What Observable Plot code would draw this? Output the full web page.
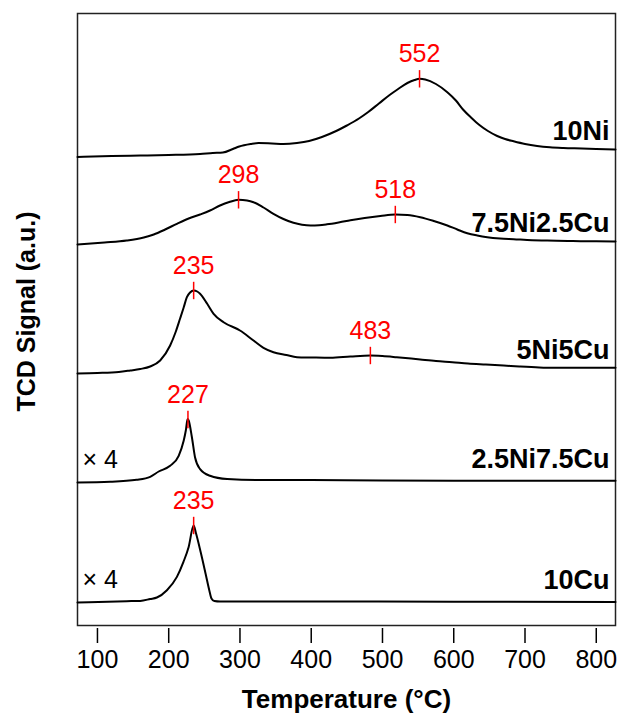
<!DOCTYPE html>
<html><head><meta charset="utf-8">
<script src="https://cdn.jsdelivr.net/npm/d3@7"></script>
<script src="https://cdn.jsdelivr.net/npm/@observablehq/plot@0.6"></script>
<style>body{margin:0;background:#fff}</style>
</head><body><div id="chart"></div>
<script>
// Samples, stacking offsets (arbitrary units) and multipliers
const samples = ["10Ni", "7.5Ni2.5Cu", "5Ni5Cu", "2.5Ni7.5Cu", "10Cu"];
const offsets = [468, 381, 252, 143, 23];
const multipliers = [1, 1, 1, 4, 4];

// TCD signal traces (temperature °C, signal a.u. above each baseline)
const temp10Ni = [72,120,160,200,244,262,276,290,299,315,326,345,361,380,397,415,435,450,467,480,495,510,521,535,545,552,560,575,591,603,613,625,636,648,661,672,684,700,717,735,754,780,800,827];
const sig10Ni  = [0.5,1.5,2,2.5,3.5,4.5,5,8.5,11,13.5,14.5,14,13.5,14.5,16.5,20.5,26.5,32,39,45.5,54,62.5,68,74.5,77.5,78.7,78,73.5,65.3,57,48,39.5,32.5,26.5,21.5,18.5,16.2,13.5,11.5,10.2,9.5,9,8.5,8];

const temp75Ni = [72,110,141,165,179,195,211.5,228,244,258,272,285,298,310,319,333,347,361,375,387,399,411,422,440,455,475,497,518,535,553,572,591,605,619,633,647,665,684,710,731,760,778,800,827];
const sig75Ni  = [0,2,4,7,10,15,20.7,26,30,34,39,42.5,44.7,44,42.3,37,30.7,25.5,21.7,19.8,19,19.3,20.2,22.3,24.3,26.5,28.5,30,29.5,27.3,23.5,19,15,11.3,9,7.3,6,5.3,4.3,4,3.5,3.3,3.2,3];

const temp5Ni = [72,100,130,146,160,174,188,202,210,216,221,225.5,230,235,240,244,254,263,277,300,319,333,347,365,380,400,427,455,483,500,520,553,575,598,620,645,670,692,720,739,780,827];
const sig5Ni  = [0,0.5,1.5,3,4.5,7,13,28,42,55,66,76.3,81,83,82,79.7,69.7,59.7,51.3,43,33,25.7,21.3,18.5,16.3,16,15.7,17,18,17.5,16.3,14,12.5,11.3,10,9,8,7,6,5.7,5.7,5.7];

const temp25Ni = [72,118,155,174,186,202,214,221,224,226.5,228,232.6,237,244,258,282,328,400,500,600,827];
const sig25Ni  = [0,0.7,2.7,5.7,11,16.7,26.7,41.7,52,63.4,62,45,25,13.4,6.7,3.4,2.4,2.4,2,1.8,1.7];

const temp10Cu = [72,141,160,174,183.4,197.5,211.5,220.7,228,235,238,245,252,257,260,264,272,400,600,827];
const sig10Cu  = [0,1.3,1.6,3.5,5,12.3,25.6,40.6,55.6,77,70,50,28,12,4,1.5,1,1,0.8,0.5];

const temps = [temp10Ni, temp75Ni, temp5Ni, temp25Ni, temp10Cu];
const signals = [sig10Ni, sig75Ni, sig5Ni, sig25Ni, sig10Cu];

// Marked peak temperatures
const peakSamples = ["10Ni", "7.5Ni2.5Cu", "7.5Ni2.5Cu", "5Ni5Cu", "5Ni5Cu", "2.5Ni7.5Cu", "10Cu"];
const peakTemps   = [552, 298, 518, 235, 483, 227, 235];

const xTicks = [100, 200, 300, 400, 500, 600, 700, 800];

// ---- build tables ----
function valueAt(i, t) {
  const T = temps[i], S = signals[i];
  let k = d3.bisectRight(T, t);
  k = Math.max(1, Math.min(T.length - 1, k));
  const f = (t - T[k-1]) / (T[k] - T[k-1]);
  return offsets[i] + S[k-1] + f * (S[k] - S[k-1]);
}
const rows = samples.flatMap((s, i) => temps[i].map((t, j) => ({sample: s, T: t, y: offsets[i] + signals[i][j]})));
const peakRows = peakSamples.map((s, k) => {
  const i = samples.indexOf(s);
  return {sample: s, T: peakTemps[k], y: valueAt(i, peakTemps[k])};
});
const labelRows = samples.map((s, i) => ({sample: s, mult: multipliers[i], y: valueAt(i, 800), base: offsets[i]}));

const vline = {draw(ctx, size) { const r = Math.sqrt(size / Math.PI); ctx.moveTo(0, -r); ctx.lineTo(0, r); }};
const FONT = "'Liberation Sans', Arial, Helvetica, sans-serif";

const chart = Plot.plot({
  width: 619, height: 715,
  marginLeft: 77, marginRight: 4, marginTop: 13, marginBottom: 90,
  style: {fontFamily: FONT, fontSize: "25px", color: "#000", background: "#fff"},
  x: {domain: [72, 827]},
  y: {domain: [0, 612], axis: null},
  marks: [
    Plot.frame({stroke: "#222", strokeWidth: 1.5}),
    Plot.axisX(xTicks, {tickSize: 15, tickPadding: 7, dy: 3, strokeWidth: 1.5, label: null, fontSize: 25, tickFormat: d => String(d)}),
    Plot.line(rows, {x: "T", y: "y", z: "sample", stroke: "#000", strokeWidth: 2, curve: "monotone-x"}),
    Plot.dot(peakRows, {x: "T", y: "y", symbol: vline, r: 8.7, stroke: "#ff0000", strokeWidth: 1.5, fill: "none"}),
    Plot.text(peakRows, {x: "T", y: "y", text: d => String(d.T), dy: -16.5, lineAnchor: "bottom", fill: "#ff0000", fontSize: 25}),
    Plot.text(labelRows.filter(d => d.mult === 1), {y: "y", text: "sample", frameAnchor: "right", textAnchor: "end", dx: -6, dy: -9, lineAnchor: "bottom", fontWeight: "bold", fontSize: 27, fill: "#000"}),
    Plot.text(labelRows.filter(d => d.mult !== 1), {y: "y", text: "sample", frameAnchor: "right", textAnchor: "end", dx: -6, dy: -13, lineAnchor: "bottom", fontWeight: "bold", fontSize: 27, fill: "#000"}),
    Plot.text(labelRows.filter(d => d.mult !== 1), {y: "base", text: d => "\u00d7 " + d.mult, frameAnchor: "left", textAnchor: "start", dx: 5, dy: -14.5, lineAnchor: "bottom", fontSize: 25, fill: "#000"}),
    Plot.text(["Temperature (\u00b0C)"], {text: d => d, frameAnchor: "bottom", textAnchor: "middle", dy: 82, lineAnchor: "bottom", fontWeight: "bold", fontSize: 26, fill: "#000"}),
    Plot.text(["TCD Signal (a.u.)"], {text: d => d, frameAnchor: "left", textAnchor: "middle", rotate: -90, dx: -51, dy: -8, lineAnchor: "middle", fontWeight: "bold", fontSize: 25, fill: "#000"})
  ]
});
document.getElementById("chart").appendChild(chart);
</script>
</body></html>
